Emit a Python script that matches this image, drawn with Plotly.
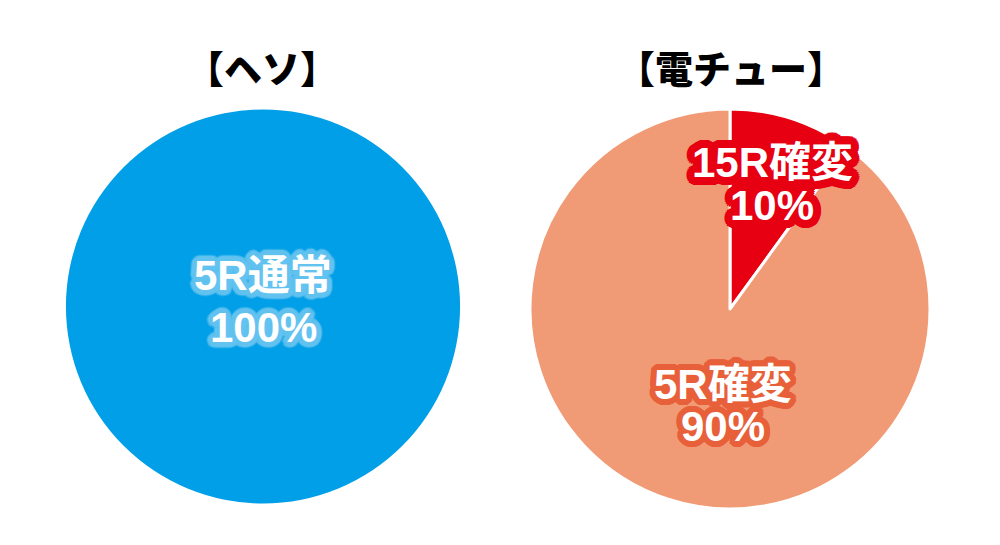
import math
import plotly.graph_objects as go

# ---- data ----
titles = ["【ヘソ】", "【電チュー】"]
heso_labels = ["5R通常"]
heso_values = [100]
chu_labels = ["15R確変", "5R確変"]
chu_values = [10, 90]

BLUE = "#009FE8"
SALMON = "#F19B76"
RED = "#E60012"
TITLE_FONT = "Noto Sans CJK JP"
LABEL_FONT = "Liberation Sans, Noto Sans CJK JP"

# page body has an 8px margin; work in window pixels and convert
OFF = 8
W, H = 1000 - OFF, 545 - OFF


def px(x):
    return (x - OFF) / W


def py(y):
    return 1 - (y - OFF) / H


def outline(color, r, n=24, blur=0):
    parts = []
    for k in range(n):
        a = 2 * math.pi * k / n
        parts.append(f"{r*math.cos(a):.1f}px {r*math.sin(a):.1f}px {blur}px {color}")
    return ", ".join(parts)


fig = go.Figure()

fig.add_trace(go.Pie(
    labels=heso_labels, values=heso_values, sort=False, direction="clockwise",
    marker=dict(colors=[BLUE], line=dict(width=0)),
    textinfo="none", hoverinfo="skip", showlegend=False,
    domain=dict(x=[px(66), px(460)], y=[py(505), py(108)]),
))

fig.add_trace(go.Pie(
    labels=chu_labels, values=chu_values, sort=False, direction="clockwise",
    rotation=0,
    marker=dict(colors=[RED, SALMON], line=dict(width=3, color="white")),
    textinfo="none", hoverinfo="skip", showlegend=False,
    domain=dict(x=[px(530), px(930)], y=[py(510), py(108)]),
))

annotations = []
for t, xc in zip(titles, [262, 731]):
    annotations.append(dict(
        text=t, x=px(xc), y=py(66), xref="paper", yref="paper",
        showarrow=False, xanchor="center", yanchor="middle",
        font=dict(family=TITLE_FONT, size=38, color="black", weight=900),
    ))


def label(lines, xc, ys, shadow):
    for line, yc in zip(lines, ys):
        annotations.append(dict(
            text=line, x=px(xc), y=py(yc), xref="paper", yref="paper",
            showarrow=False, xanchor="center", yanchor="middle",
            font=dict(family=LABEL_FONT, size=42, color="white", weight="bold",
                      shadow=shadow),
        ))


label([heso_labels[0], f"{heso_values[0]}%"], 263, [276, 327],
      outline("rgba(100,195,240,0.85)", 5, blur=2))
label([chu_labels[1], f"{chu_values[1]}%"], 723, [384, 426],
      outline("#E8603A", 6))
label([chu_labels[0], f"{chu_values[0]}%"], 772, [162, 205],
      outline(RED, 8))

fig.update_layout(
    width=W, height=H,
    margin=dict(l=0, r=0, t=0, b=0),
    paper_bgcolor="white", plot_bgcolor="white",
    annotations=annotations,
)

fig.write_html("out.html")
